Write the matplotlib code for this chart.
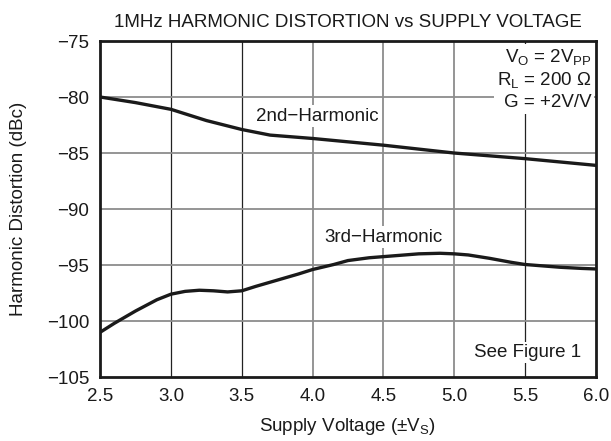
import matplotlib
matplotlib.use("Agg")
import matplotlib.pyplot as plt

plt.rcParams['font.family'] = ['Liberation Sans', 'DejaVu Sans']

# supply voltage (±Vs) and distortion (dBc)
vs_2nd = [2.5, 2.75, 3.0, 3.25, 3.5, 3.7, 4.0, 4.25, 4.5, 4.75, 5.0, 5.25, 5.5, 5.75, 6.0]
hd2 = [-80.0, -80.5, -81.1, -82.1, -82.9, -83.4, -83.7, -84.0, -84.3, -84.65, -85.0, -85.25, -85.5, -85.8, -86.1]

vs_3rd = [2.5, 2.6, 2.75, 2.9, 3.0, 3.1, 3.2, 3.3, 3.4, 3.5, 3.6, 3.75, 3.9, 4.0, 4.15, 4.25,
          4.4, 4.5, 4.65, 4.75, 4.9, 5.0, 5.1, 5.25, 5.4, 5.5, 5.6, 5.75, 5.9, 6.0]
hd3 = [-101.0, -100.2, -99.1, -98.1, -97.6, -97.35, -97.25, -97.3, -97.4, -97.3, -96.9, -96.35,
       -95.8, -95.4, -94.95, -94.6, -94.35, -94.25, -94.1, -94.0, -93.95, -94.0, -94.1, -94.4,
       -94.75, -94.95, -95.05, -95.2, -95.3, -95.35]

xticks = [2.5, 3.0, 3.5, 4.0, 4.5, 5.0, 5.5, 6.0]
yticks = [-105, -100, -95, -90, -85, -80, -75]

fs = 13.5
ink = '#1a1a1a'

fig = plt.figure(figsize=(6.11, 4.41), dpi=100)
ax = fig.add_axes([0.164, 0.145, 0.811, 0.762])

# grid: some verticals dark, the rest grey
dark_x = [3.0, 3.5, 5.5]
for x in xticks[1:-1]:
    c = '#222222' if x in dark_x else '#8c8c8c'
    ax.axvline(x, color=c, lw=0.9 if x in dark_x else 1.3, zorder=1)
for y in yticks[1:-1]:
    ax.axhline(y, color='#8c8c8c', lw=1.3, zorder=1)

ax.plot(vs_2nd, hd2, color=ink, lw=2.4, zorder=3)
ax.plot(vs_3rd, hd3, color=ink, lw=2.4, zorder=3)

ax.set_xlim(2.5, 6.0)
ax.set_ylim(-105, -75)
ax.set_xticks(xticks)
ax.set_xticklabels([f'{x:.1f}' for x in xticks])
ax.set_yticks(yticks)
ax.set_yticklabels([f'\u2212{abs(y)}' for y in yticks])
ax.tick_params(length=0, labelsize=fs, pad=8, colors=ink)
for s in ax.spines.values():
    s.set_linewidth(2.0)
    s.set_color(ink)

box = dict(facecolor='white', edgecolor='none', pad=1.5)
ax.text(4.03, -81.7, '2nd\u2212Harmonic', fontsize=fs, ha='center', va='center',
        color=ink, bbox=box, zorder=2)
ax.text(4.5, -92.5, '3rd\u2212Harmonic', fontsize=fs, ha='center', va='center',
        color=ink, bbox=box, zorder=2)
ax.text(5.9, -102.8, 'See Figure 1', fontsize=fs, ha='right', va='center',
        color=ink, bbox=box, zorder=2)
ax.text(5.97, -75.6, r'V$_\mathregular{O}$ = 2V$_\mathregular{PP}$' + '\n'
        + r'R$_\mathregular{L}$ = 200 $\mathregular{\Omega}$' + '\n' + 'G = +2V/V',
        fontsize=fs, ha='right', va='top', color=ink, linespacing=1.2,
        bbox=dict(facecolor='white', edgecolor='none', pad=2), zorder=2)

ax.set_xlabel(r'Supply Voltage ($\mathregular{\pm}$V$_\mathregular{S}$)', fontsize=fs,
              color=ink)
ax.xaxis.set_label_coords(0.5, -0.115)
ax.set_ylabel('Harmonic Distortion (dBc)', fontsize=fs, color=ink)
ax.yaxis.set_label_coords(-0.148, 0.5)
ax.set_title('1MHz HARMONIC DISTORTION vs SUPPLY VOLTAGE', fontsize=fs, color=ink, pad=10)

fig.savefig('out.png', dpi=100)
